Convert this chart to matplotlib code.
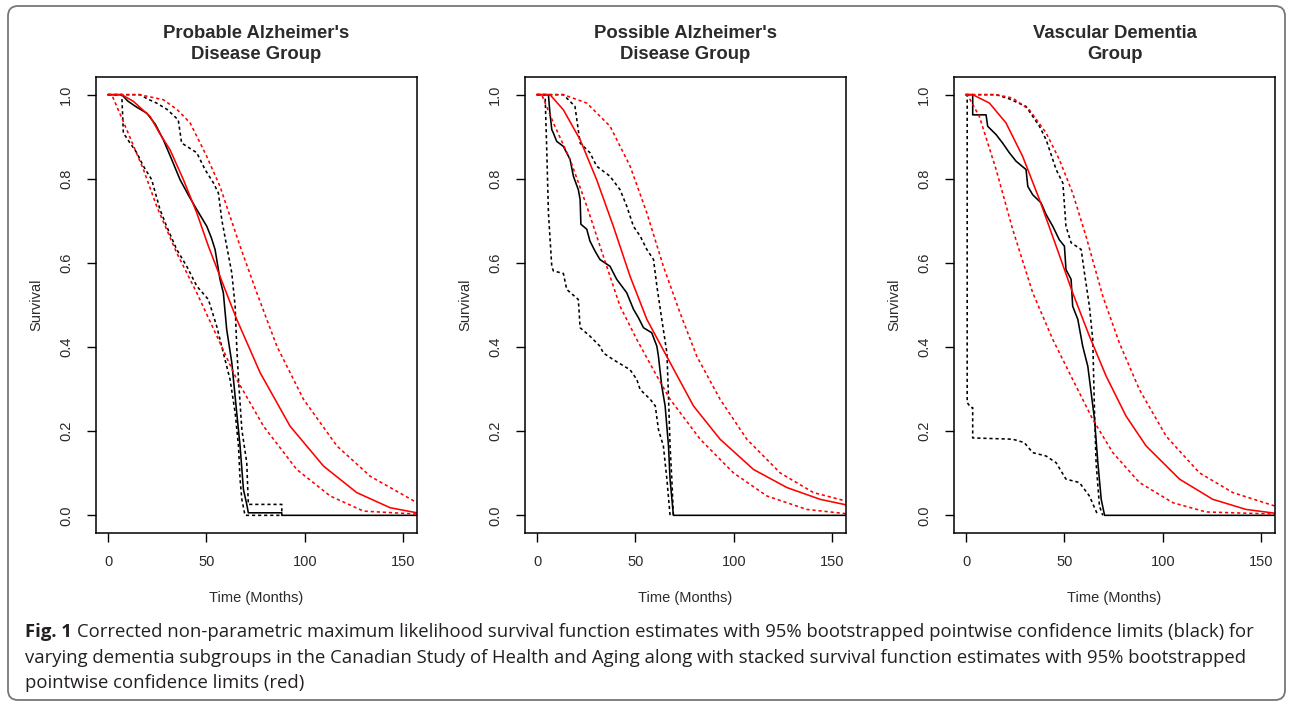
import matplotlib

matplotlib.use("Agg")
import matplotlib.pyplot as plt
from matplotlib.patches import FancyBboxPatch
from matplotlib.transforms import IdentityTransform

# ---- data (time in months, survival probability) ----
TITLES = ["Probable Alzheimer's\nDisease Group",
          "Possible Alzheimer's\nDisease Group",
          "Vascular Dementia\nGroup"]
X_TICKS = [0, 50, 100, 150]
Y_TICKS = [0.0, 0.2, 0.4, 0.6, 0.8, 1.0]

# panel 1: probable AD
P1_NPMLE_T = [0, 7, 10, 14, 19.7, 24, 28.1, 32, 36.6, 41, 45.1, 50.2, 52.5, 54.4, 56.9, 58.6,
              60.3, 62.9, 65.4, 67.1, 68.8, 70.5, 71.3, 88.3, 88.3, 157]
P1_NPMLE_S = [1, 1, 0.985, 0.972, 0.956, 0.93, 0.893, 0.85, 0.798, 0.76, 0.727, 0.687, 0.66,
              0.632, 0.561, 0.529, 0.442, 0.363, 0.244, 0.165, 0.062, 0.026, 0.006, 0.006, 0.0, 0.0]
P1_NPMLE_HI_T = [0, 16.3, 20, 24.7, 30, 35.7, 37.4, 45.1, 49.3, 53.6, 56.1, 57.8, 60.3, 62.9,
                 64.6, 65.4, 66.3, 68, 70.5, 71.3, 88.3, 88.3]
P1_NPMLE_HI_S = [1, 1, 0.99, 0.98, 0.965, 0.94, 0.885, 0.862, 0.822, 0.79, 0.766, 0.703,
                 0.64, 0.576, 0.497, 0.402, 0.323, 0.204, 0.125, 0.026, 0.026, 0.006]
P1_NPMLE_LO_T = [0, 7, 7.8, 11.2, 14.6, 18, 22.2, 26.4, 29.8, 34.9, 40, 45.1, 51, 55.2, 58.6, 62,
                 64.6, 66.3, 67.1, 68, 69.6, 88.3]
P1_NPMLE_LO_S = [1, 1, 0.909, 0.885, 0.862, 0.83, 0.798, 0.727, 0.687, 0.632, 0.592, 0.545,
                 0.513, 0.45, 0.386, 0.323, 0.244, 0.165, 0.086, 0.038, 0.0, 0.0]
P1_STACK_T = [0, 7, 12.9, 21.4, 26, 31.5, 38.3, 45.1, 51, 56.9, 65.4, 77.3, 92.5, 109.5, 126.4,
              143.4, 157]
P1_STACK_S = [1, 1, 0.984, 0.948, 0.91, 0.869, 0.798, 0.719, 0.64, 0.568, 0.466, 0.339, 0.212,
              0.117, 0.054, 0.018, 0.006]
P1_STACK_HI_T = [0, 7, 16, 28.1, 35, 41.7, 50, 56.9, 67.1, 75.6, 85.8, 99.3, 116.3, 133.2, 157]
P1_STACK_HI_S = [1, 1, 1, 0.988, 0.965, 0.933, 0.855, 0.782, 0.64, 0.529, 0.402, 0.276, 0.165,
                 0.093, 0.03]
P1_STACK_LO_T = [0, 1.9, 9.5, 18, 24.7, 34.9, 45.1, 56.9, 65.4, 79, 95.9, 112.9, 129.8, 157]
P1_STACK_LO_S = [1, 1, 0.917, 0.822, 0.735, 0.624, 0.529, 0.41, 0.323, 0.212, 0.109, 0.046,
                 0.01, 0.003]

# panel 2: possible AD
P2_NPMLE_T = [0, 5.8, 6.5, 7.5, 8.3, 10, 13.4, 16.8, 18.5, 21, 21.9, 22.3, 25.3, 26.9, 29.5, 32,
              37.1, 40.5, 45.6, 49, 51.5, 54.1, 58.3, 60.9, 61.7, 63.4, 65.1, 66.8, 67.6, 69.3, 157]
P2_NPMLE_S = [1, 1, 0.96, 0.917, 0.909, 0.889, 0.877, 0.846, 0.806, 0.774, 0.751, 0.692, 0.68,
              0.652, 0.628, 0.608, 0.592, 0.561, 0.529, 0.49, 0.47, 0.446, 0.434, 0.402, 0.378,
              0.307, 0.26, 0.165, 0.086, 0.0, 0.0]
P2_NPMLE_HI_T = [0, 13.4, 19.3, 21.9, 26.9, 30.3, 37.1, 42.2, 45.6, 49, 52.4, 55.8, 59.2, 60.9,
                 63.4, 66, 66.8, 67.6, 68.5, 69.3]
P2_NPMLE_HI_S = [1, 1, 0.972, 0.885, 0.862, 0.83, 0.806, 0.774, 0.735, 0.687, 0.664, 0.632,
                 0.608, 0.545, 0.466, 0.386, 0.284, 0.165, 0.086, 0.0]
P2_NPMLE_LO_T = [0, 4.1, 4.9, 5.8, 7.5, 8.3, 13.4, 15.1, 21, 21.9, 26.9, 32, 33.7, 38.8, 47.3,
                 50.7, 52.4, 57.5, 60.1, 61.7, 64.2, 66, 67.6]
P2_NPMLE_LO_S = [1, 1, 0.877, 0.719, 0.592, 0.581, 0.575, 0.537, 0.513, 0.446, 0.426, 0.402,
                 0.386, 0.37, 0.346, 0.323, 0.299, 0.276, 0.26, 0.204, 0.165, 0.086, 0.0]
P2_STACK_T = [0, 6.6, 13.4, 21.9, 30.3, 38.8, 47.3, 55.8, 65.9, 79.5, 93, 110, 127, 143.9, 157]
P2_STACK_S = [1, 1, 0.964, 0.893, 0.798, 0.687, 0.568, 0.466, 0.378, 0.26, 0.181, 0.109, 0.066,
              0.038, 0.025]
P2_STACK_HI_T = [0, 6.6, 13.4, 25.3, 37.1, 47.3, 55.8, 64.2, 72.7, 81.2, 93, 106.6, 123.5,
                 140.5, 157]
P2_STACK_HI_S = [1, 1, 1, 0.98, 0.925, 0.83, 0.719, 0.592, 0.481, 0.378, 0.276, 0.181, 0.101,
                 0.054, 0.034]
P2_STACK_LO_T = [0, 2.4, 8.3, 16.8, 25.3, 33.7, 42.2, 50.7, 60.9, 67.6, 82.9, 99.8, 116.8,
                 137.1, 157]
P2_STACK_LO_S = [1, 1, 0.933, 0.846, 0.735, 0.616, 0.497, 0.418, 0.331, 0.276, 0.181, 0.101,
                 0.046, 0.014, 0.004]

# panel 3: vascular dementia
P3_NPMLE_T = [0, 3.4, 3.4, 10.2, 11, 15.3, 18.6, 22, 25.4, 30.5, 31.4, 33.9, 38.1, 40.7, 44.1,
              47.4, 50, 50.8, 53.4, 54.2, 56.8, 59.3, 61.9, 63.6, 65.3, 67, 68.7, 70.4, 157]
P3_NPMLE_S = [1, 1, 0.952, 0.952, 0.925, 0.905, 0.885, 0.862, 0.842, 0.822, 0.782, 0.762, 0.743,
              0.715, 0.687, 0.655, 0.64, 0.584, 0.561, 0.497, 0.466, 0.402, 0.354, 0.291, 0.228,
              0.125, 0.038, 0.0, 0.0]
P3_NPMLE_HI_T = [0, 15.3, 22, 30.5, 37.3, 40.7, 45.8, 49.2, 50.8, 53.4, 58.5, 60.2, 62.7, 64.4,
                 65.3, 66.1, 67.8, 69.5]
P3_NPMLE_HI_S = [1, 1, 0.99, 0.972, 0.925, 0.893, 0.822, 0.79, 0.687, 0.648, 0.632, 0.576,
                 0.497, 0.418, 0.244, 0.125, 0.022, 0.0]
P3_NPMLE_LO_T = [0, 0.6, 0.6, 2.5, 3.4, 3.4, 23.7, 29.6, 33.9, 40.7, 45.8, 50.8, 57.6, 62.7, 67]
P3_NPMLE_LO_S = [1, 1, 0.268, 0.256, 0.256, 0.184, 0.181, 0.173, 0.149, 0.141, 0.125, 0.086,
                 0.078, 0.046, 0.0]
P3_STACK_T = [0, 3.4, 11.9, 20.3, 28.8, 37.3, 45.8, 54.2, 62.7, 71.2, 81.3, 91.5, 108.5, 125.4,
              142.3, 157]
P3_STACK_S = [1, 1, 0.98, 0.933, 0.853, 0.751, 0.64, 0.529, 0.426, 0.331, 0.236, 0.165, 0.086,
              0.038, 0.014, 0.005]
P3_STACK_HI_T = [0, 15.3, 23.7, 32.2, 40.7, 47.4, 54.2, 61, 69.5, 77.9, 88.1, 101.7, 118.6,
                 135.6, 157]
P3_STACK_HI_S = [1, 1, 0.992, 0.964, 0.909, 0.846, 0.766, 0.663, 0.521, 0.41, 0.299, 0.188,
                 0.101, 0.054, 0.022]
P3_STACK_LO_T = [0, 0.7, 6.8, 15.3, 23.7, 33.9, 44.1, 54.2, 64.4, 74.6, 88.1, 105.1, 122, 157]
P3_STACK_LO_S = [1, 1, 0.948, 0.822, 0.68, 0.529, 0.418, 0.323, 0.228, 0.149, 0.078, 0.03,
                 0.008, 0.003]

CAPTION_BOLD = "Fig. 1"
CAPTION_LINES = [
    "Corrected non-parametric maximum likelihood survival function estimates with 95% "
    "bootstrapped pointwise confidence limits (black) for",
    "varying dementia subgroups in the Canadian Study of Health and Aging along with stacked "
    "survival function estimates with 95% bootstrapped",
    "pointwise confidence limits (red)",
]

PANELS = [
    (P1_NPMLE_T, P1_NPMLE_S, P1_NPMLE_HI_T, P1_NPMLE_HI_S, P1_NPMLE_LO_T, P1_NPMLE_LO_S,
     P1_STACK_T, P1_STACK_S, P1_STACK_HI_T, P1_STACK_HI_S, P1_STACK_LO_T, P1_STACK_LO_S),
    (P2_NPMLE_T, P2_NPMLE_S, P2_NPMLE_HI_T, P2_NPMLE_HI_S, P2_NPMLE_LO_T, P2_NPMLE_LO_S,
     P2_STACK_T, P2_STACK_S, P2_STACK_HI_T, P2_STACK_HI_S, P2_STACK_LO_T, P2_STACK_LO_S),
    (P3_NPMLE_T, P3_NPMLE_S, P3_NPMLE_HI_T, P3_NPMLE_HI_S, P3_NPMLE_LO_T, P3_NPMLE_LO_S,
     P3_STACK_T, P3_STACK_S, P3_STACK_HI_T, P3_STACK_HI_S, P3_STACK_LO_T, P3_STACK_LO_S),
]

W, H = 1292, 706
TXT = "#2b2b2b"
LW = 1.15
DOT = (0, (2.0, 1.8))

plt.rcParams["font.family"] = ["Liberation Sans", "DejaVu Sans"]

fig = plt.figure(figsize=(W / 100, H / 100), dpi=100)

# frame around the whole figure
fig.patches.append(FancyBboxPatch((8, 6), 1277, 694, boxstyle="round,pad=0,rounding_size=10",
                                  transform=IdentityTransform(), fill=False,
                                  edgecolor="#777777", linewidth=1.3))

lefts = [96, 525, 954]
for left, title, data in zip(lefts, TITLES, PANELS):
    (kt, ks, kht, khs, klt, kls, st, ss, sht, shs, slt, sls) = data
    ax = fig.add_axes([left / W, 1 - 533 / H, 321 / W, 456 / H])

    ax.plot(kt, ks, color="black", lw=LW)
    ax.plot(kht, khs, color="black", lw=LW, ls=DOT)
    ax.plot(klt, kls, color="black", lw=LW, ls=DOT)
    ax.plot(st, ss, color="red", lw=LW)
    ax.plot(sht, shs, color="red", lw=LW, ls=DOT)
    ax.plot(slt, sls, color="red", lw=LW, ls=DOT)

    ax.set_xlim(-6.1, 157)
    ax.set_ylim(-0.042, 1.042)
    ax.set_xticks(X_TICKS)
    ax.set_yticks(Y_TICKS)
    ax.set_yticklabels([f"{v:.1f}" for v in Y_TICKS], rotation=90, va="center")
    ax.tick_params(direction="out", length=6.5, width=1.0, colors="black",
                   labelcolor=TXT, labelsize=10.5)
    ax.tick_params(axis="x", pad=9)
    ax.tick_params(axis="y", pad=10)
    for sp in ax.spines.values():
        sp.set_linewidth(1.1)

    ax.set_xlabel("Time (Months)", fontsize=10.5, color=TXT, labelpad=16)
    ax.set_ylabel("Survival", fontsize=10.5, color=TXT, labelpad=11)

    fig.text((left + 160.5) / W, 1 - 44 / H, title, ha="center", va="center",
             fontsize=13.3, fontweight="bold", color=TXT, linespacing=1.35)

# caption
cap_size = 13.3
cap_font = ["Open Sans", "DejaVu Sans"]
ys = [632, 658, 683]
bold = fig.text(25 / W, 1 - ys[0] / H, CAPTION_BOLD, fontsize=cap_size, fontweight="bold",
                family=cap_font, color="#231f20", va="center")
fig.canvas.draw()
bb = bold.get_window_extent()
fig.text((bb.x1 + 5) / W, 1 - ys[0] / H, CAPTION_LINES[0], fontsize=cap_size,
         family=cap_font, color="#231f20", va="center")
for line, y in zip(CAPTION_LINES[1:], ys[1:]):
    fig.text(25 / W, 1 - y / H, line, fontsize=cap_size, family=cap_font,
             color="#231f20", va="center")

fig.savefig("out.png", dpi=100)
